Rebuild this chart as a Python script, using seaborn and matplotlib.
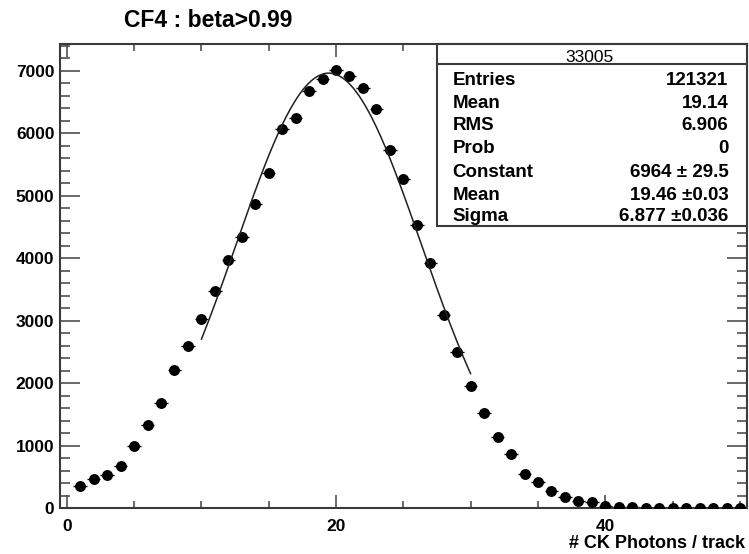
import numpy as np
import pandas as pd
import matplotlib
matplotlib.use("Agg")
import matplotlib.pyplot as plt
from matplotlib.patches import Rectangle
from matplotlib.ticker import MultipleLocator
import seaborn as sns

# ---------------- data ----------------
photons = list(range(1, 51))
counts = [357, 469, 533, 677, 1002, 1328, 1680, 2218, 2597, 3029,
          3480, 3973, 4336, 4864, 5370, 6064, 6250, 6677, 6864, 7008,
          6921, 6719, 6389, 5733, 5264, 4533, 3920, 3100, 2506, 1957,
          1530, 1146, 874, 549, 426, 282, 176, 122, 96, 42,
          25, 15, 10, 7, 5, 4, 3, 2, 1, 1]
bin_half_width = 0.5

fit_constant = 6964
fit_mean = 19.46
fit_sigma = 6.877
fit_range = (10, 30)

title = "CF4 : beta>0.99"
xlabel = "# CK Photons / track"
stats_name = "33005"
stats_labels = ["Entries", "Mean", "RMS", "Prob", "Constant", "Mean", "Sigma"]
stats_values = ["121321", "19.14", "6.906", "0",
                "6964 \u00b1 29.5", "19.46 \u00b10.03", "6.877 \u00b10.036"]

# ---------------- style ----------------
sns.set_theme(style="ticks")
plt.rcParams["font.family"] = ["Liberation Sans", "DejaVu Sans"]

W, H = 749, 554
fig = plt.figure(figsize=(W / 100, H / 100), dpi=100)
fig.patch.set_facecolor("white")

def fx(px):
    return px / W

def fy(py):
    return 1 - py / H

ax_l, ax_r, ax_t, ax_b = 60, 746.7, 44, 508.3
ax = fig.add_axes([fx(ax_l), fy(ax_b), (ax_r - ax_l) / W, (ax_b - ax_t) / H])
ax.set_facecolor("white")

df = pd.DataFrame({"x": photons, "y": counts})

# horizontal bin-width error bars
ax.errorbar(df["x"], df["y"], xerr=bin_half_width, fmt="none",
            ecolor="black", elinewidth=1.0, capsize=0, zorder=2)
sns.scatterplot(data=df, x="x", y="y", ax=ax, color="black", s=62,
                marker="o", edgecolor="black", linewidth=0, zorder=3)

xf = np.linspace(fit_range[0], fit_range[1], 300)
yf = fit_constant * np.exp(-0.5 * ((xf - fit_mean) / fit_sigma) ** 2)
sns.lineplot(x=xf, y=yf, ax=ax, color="#202020", linewidth=1.1, zorder=4)

ax.set_xlim(-0.5, 50.5)
ax.set_ylim(0, 7430)
ax.set_xlabel("")
ax.set_ylabel("")

spine_c = "#3a3a3a"
for s in ax.spines.values():
    s.set_visible(True)
    s.set_color(spine_c)
    s.set_linewidth(1.5)

ax.xaxis.set_major_locator(MultipleLocator(20))
ax.xaxis.set_minor_locator(MultipleLocator(5))
ax.yaxis.set_major_locator(MultipleLocator(1000))
ax.yaxis.set_minor_locator(MultipleLocator(200))

tick_c = "#505050"
ax.tick_params(axis="x", which="major", direction="in", length=9.5, width=1.2,
               color=tick_c, top=True, bottom=True, pad=8, labelsize=12.5)
ax.tick_params(axis="x", which="minor", direction="in", length=5, width=1.2,
               color=tick_c, top=True, bottom=True)
ax.tick_params(axis="y", which="major", direction="in", length=14.4, width=1.2,
               color=tick_c, left=True, right=True, pad=4, labelsize=12.5)
ax.tick_params(axis="y", which="minor", direction="in", length=7.2, width=1.2,
               color=tick_c, left=True, right=True)
for lab in ax.get_xticklabels() + ax.get_yticklabels():
    lab.set_fontweight("bold")
    lab.set_color("black")

# title and axis label
fig.text(fx(124), fy(26.7), title, ha="left", va="baseline",
         fontsize=16.5, fontweight="bold", color="black")
fig.text(fx(745), fy(548.3), xlabel, ha="right", va="baseline",
         fontsize=13, fontweight="bold", color="black")

# stats box
bx_l, bx_r, bx_t, bx_b, bx_div = 436.7, 746.7, 44, 226, 64.3
box = Rectangle((fx(bx_l), fy(bx_b)), (bx_r - bx_l) / W, (bx_b - bx_t) / H,
                transform=fig.transFigure, facecolor="white",
                edgecolor=spine_c, linewidth=1.5, zorder=10)
fig.patches.append(box)
fig.add_artist(plt.Line2D([fx(bx_l), fx(bx_r)], [fy(bx_div), fy(bx_div)],
                          transform=fig.transFigure, color=spine_c,
                          linewidth=1.5, zorder=11))
fig.text(fx(589), fy(62.5), stats_name, ha="center", va="baseline",
         fontsize=12.5, color="black", zorder=12)

row_centers = [79.3, 102.3, 124.5, 147.3, 171.5, 194.5, 215.3]
for lab, val, yc in zip(stats_labels, stats_values, row_centers):
    base = yc + 5.8
    fig.text(fx(452.7), fy(base), lab, ha="left", va="baseline",
             fontsize=13.5, fontweight="bold", color="black", zorder=12)
    fig.text(fx(728.3), fy(base), val, ha="right", va="baseline",
             fontsize=13.5, fontweight="bold", color="black", zorder=12)

fig.savefig("out.png", dpi=100, facecolor="white")
